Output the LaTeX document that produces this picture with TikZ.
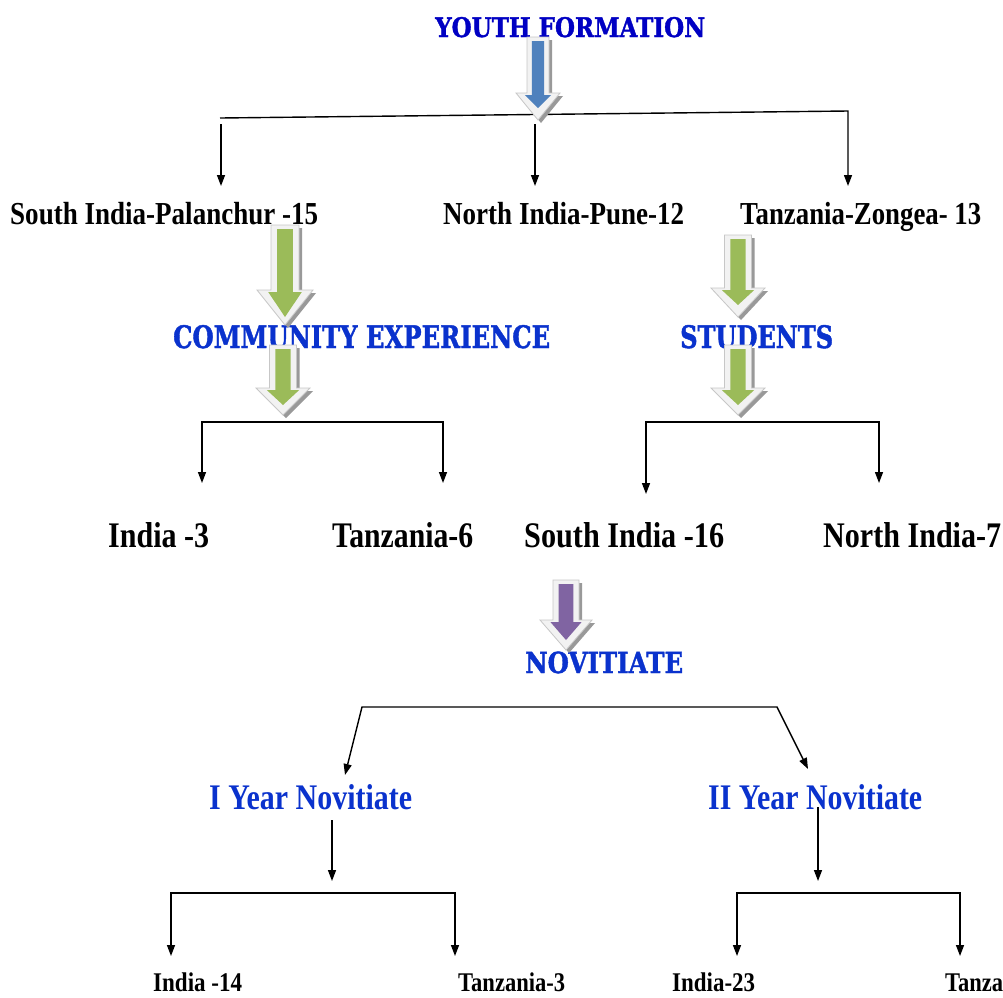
\documentclass[tikz,border=0pt]{standalone}
\usepackage{fontspec}
\usepackage{graphicx}
\usetikzlibrary{arrows.meta}
\newfontfamily\labfont{Liberation Serif}
\newfontfamily\headfont[BoldFeatures={FakeBold=1.5}]{DejaVu Serif}
\definecolor{youthblue}{RGB}{0,0,195}
\definecolor{headblue}{RGB}{10,50,205}
\definecolor{arrblue}{RGB}{79,129,189}
\definecolor{arrgreen}{RGB}{155,187,89}
\definecolor{arrpurple}{RGB}{128,100,162}
\newlength\fitlen
\newcommand\fitto[2]{\settowidth{\fitlen}{#2}\pgfmathsetmacro\fitr{#1/\fitlen}\scalebox{\fitr}[1]{#2}}
\newcommand\blockarrow[7]{%
 \path[arrshadow] ({#2-0.5*#6+3},{#3+3}) -- ({#2+0.5*#6+3},{#3+3}) -- ({#2+0.5*#6+3},{#4+3}) -- ({#2+#6+3},{#4+3}) -- ({#2+3},{#5+3}) -- ({#2-#6+3},{#4+3}) -- ({#2-0.5*#6+3},{#4+3}) -- cycle;
 \path[arrouter] ({#2-0.5*#6},#3) -- ({#2+0.5*#6},#3) -- ({#2+0.5*#6},#4) -- ({#2+#6},#4) -- (#2,#5) -- ({#2-#6},#4) -- ({#2-0.5*#6},#4) -- cycle;
 \fill[#1] ({#2-0.28*#6},{#3+4}) -- ({#2+0.28*#6},{#3+4}) -- ({#2+0.28*#6},{#4+2}) -- ({#2+0.6*#6},{#4+2}) -- (#2,#7) -- ({#2-0.6*#6},{#4+2}) -- ({#2-0.28*#6},{#4+2}) -- cycle;
}
\tikzset{
 lab/.style={font=\fontsize{32}{36}\labfont\bfseries, anchor=base west, inner sep=0pt, text=black},
 labbig/.style={lab, font=\fontsize{36}{40}\labfont\bfseries},
 labsmall/.style={lab, font=\fontsize{27}{30}\labfont\bfseries},
 yearlab/.style={lab, font=\fontsize{36}{40}\labfont\bfseries, text=headblue},
 head/.style={font=\fontsize{31}{34}\headfont\bfseries, anchor=base west, inner sep=0pt, text=headblue},
 arrshadow/.style={fill=black!40},
 arrouter/.style={fill=black!5, draw=black!22, line width=0.8pt},
 conn/.style={draw=black, line width=1.4pt, -{Triangle[length=11pt,width=8pt]}},
 conn2/.style={draw=black, line width=1.4pt, {Triangle[length=11pt,width=8pt]}-{Triangle[length=11pt,width=8pt]}},
}
\begin{document}
\begin{tikzpicture}[x=1pt,y=-1pt]
\fill[white] (0,0) rectangle (1003,997);
\useasboundingbox (0,0) rectangle (1003,997);

% texts
\node[head, font=\fontsize{27}{30}\headfont\bfseries, text=youthblue] (youth) at (435,37) {\fitto{270pt}{YOUTH FORMATION}};
\node[lab] (sip) at (10,224) {\fitto{308pt}{South India-Palanchur -15}};
\node[lab] (nip) at (443,224) {\fitto{241pt}{North India-Pune-12}};
\node[lab] (tz) at (740,224) {\fitto{241pt}{Tanzania-Zongea- 13}};
\node[head] (comm) at (173,348) {\fitto{377pt}{COMMUNITY EXPERIENCE}};
\node[head] (stud) at (680,348) {\fitto{153pt}{STUDENTS}};
\node[labbig] (in3) at (108,547) {\fitto{101pt}{India -3}};
\node[labbig] (tz6) at (332,547) {\fitto{141pt}{Tanzania-6}};
\node[labbig] (si16) at (524,547) {\fitto{200pt}{South India -16}};
\node[labbig] (ni7) at (823,547) {\fitto{178pt}{North India-7}};
\node[head, font=\fontsize{29}{32}\headfont\bfseries] (nov) at (525,673) {\fitto{158pt}{NOVITIATE}};
\node[yearlab] (y1) at (209,809) {\fitto{203pt}{I Year Novitiate}};
\node[yearlab] (y2) at (708,809) {\fitto{214pt}{II Year Novitiate}};
\node[labsmall] (in14) at (153,991) {\fitto{89pt}{India -14}};
\node[labsmall] (tz3) at (458,991) {\fitto{107pt}{Tanzania-3}};
\node[labsmall] (in23) at (672,991) {\fitto{83pt}{India-23}};
\node[labsmall] (tzb) at (945,991) {\fitto{58pt}{Tanza}};

% coordinates
\coordinate (tl) at (220,118);
\coordinate (tr) at (848,111);
\coordinate (tls) at (221,124);
\coordinate (tms) at (535,124);
\coordinate (sipt) at (221,186);
\coordinate (nipt) at (535,186);
\coordinate (tzt) at (848,186);
\coordinate (cl) at (202,422);
\coordinate (cr) at (443,422);
\coordinate (in3t) at (202,483);
\coordinate (tz6t) at (443,483);
\coordinate (sl) at (646,422);
\coordinate (sr) at (879,422);
\coordinate (si16t) at (646,494);
\coordinate (ni7t) at (879,483);
\coordinate (nl) at (362,707);
\coordinate (nr) at (777,707);
\coordinate (y1t) at (345,775);
\coordinate (y2t) at (808,769);
\coordinate (y1s) at (332,820);
\coordinate (y2s) at (818,807);
\coordinate (b1t) at (332,881);
\coordinate (b2t) at (818,881);
\coordinate (bl1) at (171,893);
\coordinate (br1) at (455,893);
\coordinate (bl2) at (737,893);
\coordinate (br2) at (960,893);
\coordinate (in14t) at (171,956);
\coordinate (tz3t) at (455,956);
\coordinate (in23t) at (737,956);
\coordinate (tzbt) at (960,956);

% connectors
\draw[conn] (tl) -- (tr) -- (tzt);
\draw[conn] (tls) -- (sipt);
\draw[conn] (tms) -- (nipt);
\draw[conn2] (in3t) -- (cl) -- (cr) -- (tz6t);
\draw[conn2] (si16t) -- (sl) -- (sr) -- (ni7t);
\draw[conn2] (y1t) -- (nl) -- (nr) -- (y2t);
\draw[conn] (y1s) -- (b1t);
\draw[conn] (y2s) -- (b2t);
\draw[conn2] (in14t) -- (bl1) -- (br1) -- (tz3t);
\draw[conn2] (in23t) -- (bl2) -- (br2) -- (tzbt);

% block arrows
\blockarrow{arrblue}{538}{37}{93}{120}{22}{108}
\blockarrow{arrgreen}{285}{225}{290}{325}{28}{317}
\blockarrow{arrgreen}{283}{345}{388}{415}{27}{405}
\blockarrow{arrgreen}{738}{235}{288}{317}{27}{305}
\blockarrow{arrgreen}{738}{345}{388}{415}{27}{405}
\blockarrow{arrpurple}{566}{580}{620}{650}{26}{640}
\end{tikzpicture}
\end{document}
